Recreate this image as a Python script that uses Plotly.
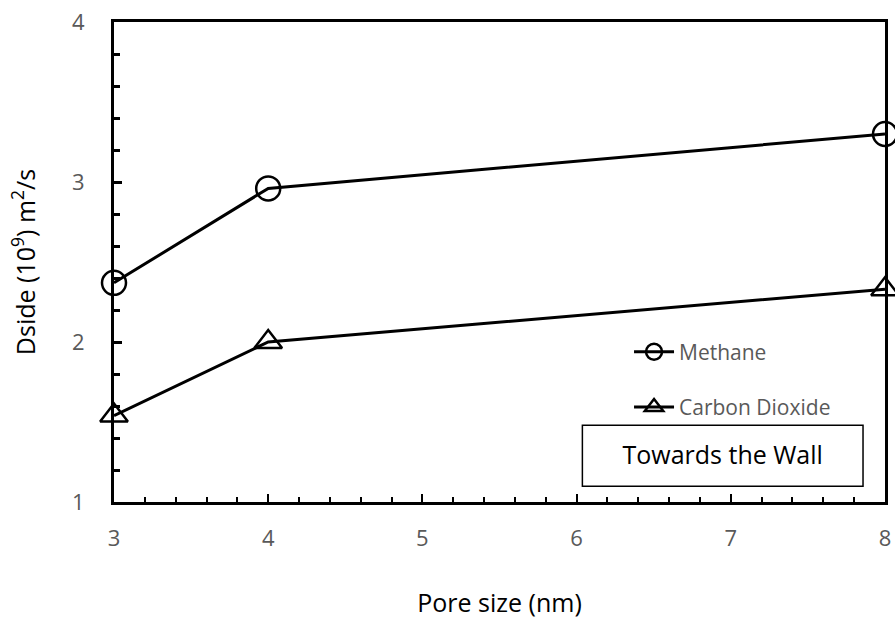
import plotly.graph_objects as go

pore_size = [3, 4, 8]
methane = [2.37, 2.96, 3.30]
co2 = [1.54, 2.00, 2.33]
series_names = ["Methane", "Carbon Dioxide"]
x_title = "Pore size (nm)"
y_title = "Dside (10<sup>9</sup>) m<sup>2</sup>/s"
box_text = "Towards the Wall"

FONT = "Open Sans"
fig = go.Figure()
fig.add_trace(go.Scatter(
    x=pore_size, y=methane, name=series_names[0], mode="lines+markers",
    line=dict(color="black", width=3),
    marker=dict(symbol="circle-open", size=24, color="black", line=dict(width=2.5)),
    cliponaxis=False, legendgroup="a"))
fig.add_trace(go.Scatter(
    x=pore_size, y=co2, name=series_names[1], mode="lines+markers",
    line=dict(color="black", width=3),
    marker=dict(symbol="triangle-up-open", size=24, color="black", line=dict(width=2.5)),
    cliponaxis=False, legendgroup="b"))

fig.update_layout(
    width=895, height=621,
    margin=dict(l=114, r=10, t=22, b=119),
    paper_bgcolor="white", plot_bgcolor="white",
    font=dict(family=FONT, color="#595959", size=18),
    showlegend=True,
    legend=dict(x=0.668, y=0.355, xanchor="left", yanchor="top",
                bgcolor="rgba(0,0,0,0)", font=dict(size=21, color="#595959"),
                tracegroupgap=25, itemwidth=40),
    xaxis=dict(range=[3, 8], dtick=1, showgrid=False, zeroline=False, automargin=False,
               showline=True, linecolor="black", linewidth=3, mirror=True,
               ticks="inside", ticklen=8, tickwidth=1.5, tickcolor="black",
               minor=dict(dtick=0.2, ticks="inside", ticklen=5, tickwidth=1.5, tickcolor="black"),
               ticklabelstandoff=15, tickfont=dict(size=22),
               title=dict(text=x_title, font=dict(size=25, color="black"), standoff=44)),
    yaxis=dict(range=[1, 4], dtick=1, showgrid=False, zeroline=False, automargin=False,
               showline=True, linecolor="black", linewidth=3, mirror=True,
               ticks="inside", ticklen=8, tickwidth=3, tickcolor="black",
               minor=dict(dtick=0.2, ticks="inside", ticklen=6, tickwidth=3, tickcolor="black"),
               ticklabelstandoff=22, tickfont=dict(size=22),
               title=dict(text=y_title, font=dict(size=25, color="black"), standoff=30)),
)

fig.add_shape(type="rect", xref="paper", yref="paper",
              x0=0.6075, x1=0.9715, y0=0.033, y1=0.16,
              line=dict(color="black", width=1.5), fillcolor="white", layer="below",
              label=dict(text=box_text, font=dict(size=25, color="black", family=FONT),
                         textposition="middle center"))

fig.write_html("out.html")
